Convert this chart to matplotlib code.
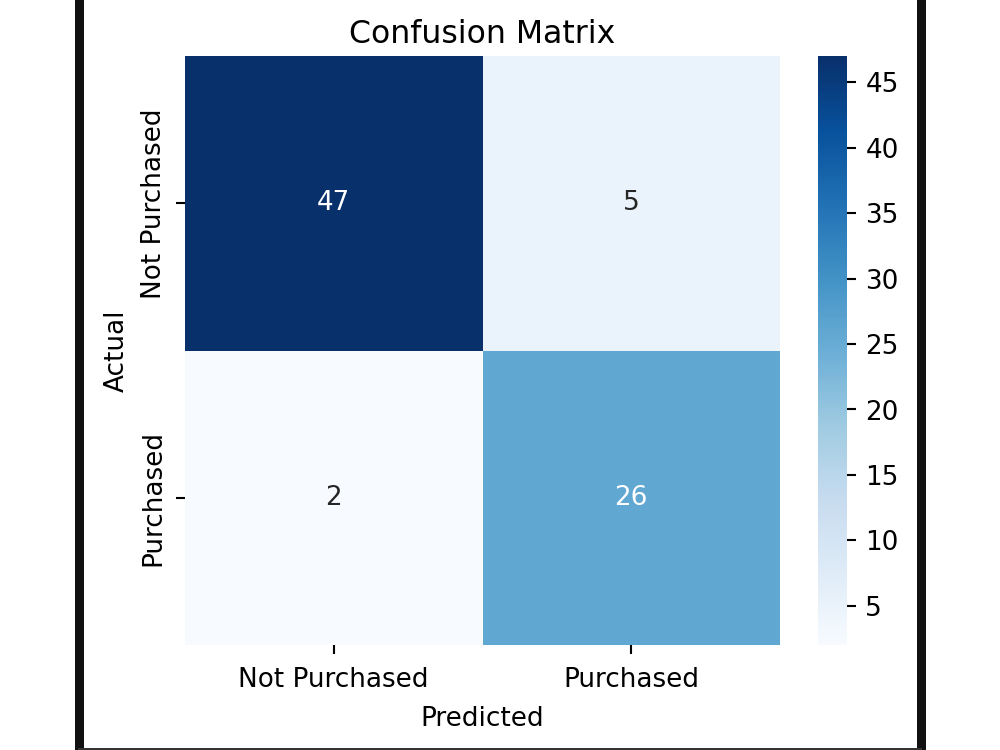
import numpy as np
import matplotlib
matplotlib.use('Agg')
import matplotlib.pyplot as plt
import seaborn as sns
from matplotlib.lines import Line2D

# Data
classes = ['Not Purchased', 'Purchased']
row_not_purchased = [47, 5]
row_purchased = [2, 26]
cm = np.array([row_not_purchased, row_purchased])

DPI = 189
fig = plt.figure(figsize=(1000 / DPI, 750 / DPI), dpi=DPI)
ax = fig.add_axes([0.185, 0.14, 0.595, 0.785])
cax = fig.add_axes([0.818, 0.14, 0.029, 0.785])

sns.heatmap(cm, annot=True, fmt='d', cmap='Blues', ax=ax, cbar_ax=cax,
            xticklabels=classes, yticklabels=classes)
ax.set_xlabel('Predicted', labelpad=5)
ax.set_ylabel('Actual')
ax.set_title('Confusion Matrix', pad=5)
ax.tick_params(axis='x', pad=5)
plt.setp(ax.get_yticklabels(), rotation=90, va='center')
cax.set_yticks([5, 10, 15, 20, 25, 30, 35, 40, 45])

# black frame around the figure (as in the screenshot)
lw_pt = 9 * 72 / DPI
fig.add_artist(Line2D([0.0785, 0.0785], [0.0, 1.0], color='#111111', lw=lw_pt,
                      transform=fig.transFigure))
fig.add_artist(Line2D([0.921, 0.921], [0.0, 1.0], color='#111111', lw=lw_pt,
                      transform=fig.transFigure))
fig.add_artist(Line2D([0.0785, 0.921], [0.002, 0.002], color='#333333', lw=2 * 72 / DPI,
                      transform=fig.transFigure))

fig.savefig('out.png', dpi=DPI)
